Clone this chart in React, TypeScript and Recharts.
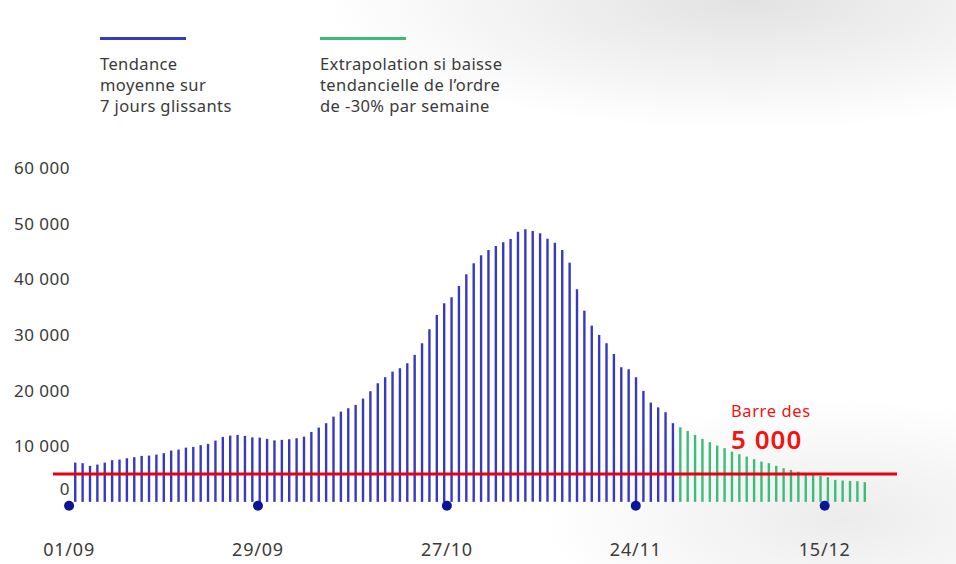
import React from 'react';
import {
  ComposedChart,
  Bar,
  XAxis,
  YAxis,
  ReferenceLine,
  ReferenceDot
} from 'recharts';

// 7-day rolling average (daily cases)
const trendValues = [
  7060, 6950, 6470, 6700, 7060, 7490, 7600, 7850, 8030, 8260,
  8320, 8500, 8750, 9220, 9390, 9750, 9880, 10190, 10420, 11010,
  11680, 11910, 12040, 11860, 11590, 11550, 11320, 11050, 11140, 11260,
  11440, 11730, 12570, 13350, 14140, 15320, 16220, 16830, 17420, 18560,
  19890, 21320, 22400, 23410, 24020, 24910, 26410, 28510, 31020, 33590,
  35690, 36770, 38800, 40900, 42880, 44310, 45270, 45990, 46650, 47240,
  48550, 48980, 48680, 48270, 47300, 46580, 45270, 42990, 38210, 34360,
  31670, 30000, 28510, 26590, 24200, 23840, 22400, 19940, 17840, 16980,
  16110, 14140
];

// extrapolation with -30% per week
const extrapolationValues = [
  13420, 12750, 12040, 11320, 10730, 10110, 9650, 9040, 8570, 8140,
  7670, 7240, 6950, 6470, 6050, 5750, 5440, 5160, 4980, 4670,
  4440, 3950, 3830, 3770, 3720, 3540
];

const dateTicks = [
  { pos: -0.9, label: '01/09' },
  { pos: 24.7, label: '29/09' },
  { pos: 50.3, label: '27/10' },
  { pos: 75.9, label: '24/11' },
  { pos: 101.5, label: '15/12' }
];

const yTicks = [0, 10000, 20000, 30000, 40000, 50000, 60000];

const threshold = 5000;

const legendItems = [
  { color: '#3838c0', lines: ['Tendance', 'moyenne sur', '7 jours glissants'] },
  { color: '#3dbb7a', lines: ['Extrapolation si baisse', 'tendancielle de l\u2019ordre', 'de -30% par semaine'] }
];

const data = [
  ...trendValues.map((v, i) => ({ pos: i, trend: v, extra: null as number | null })),
  ...extrapolationValues.map((v, i) => ({ pos: trendValues.length + i, trend: null as number | null, extra: v }))
];

const FONT = '"Noto Sans", "Open Sans", sans-serif';
const TEXT = '#3a3a3a';

const fmt = (n: number) => n.toLocaleString('fr-FR').replace(/\s/g, ' ');

const YTick = (props: any) => {
  const { x, y, payload } = props;
  const shift = payload.value === 0 ? -13 : 0;
  return (
    <text x={x + 17} y={y + shift} dy="0.35em" textAnchor="end" fill={TEXT} fontSize={17} letterSpacing={0.5} fontFamily={FONT}>
      {fmt(payload.value)}
    </text>
  );
};

const XTick = (props: any) => {
  const { x, y, payload } = props;
  const t = dateTicks.find(d => d.pos === payload.value);
  return (
    <text x={x} y={y + 37} dy="0.35em" textAnchor="middle" fill={TEXT} fontSize={18} letterSpacing={0.8} fontFamily={FONT}>
      {t ? t.label : ''}
    </text>
  );
};

export default function App() {
  return (
    <div
      style={{
        position: 'absolute',
        left: 0,
        top: 0,
        width: 956,
        height: 564,
        background:
          'radial-gradient(ellipse 420px 130px at 78% 0%, #e2e2e2 0%, rgba(255,255,255,0) 100%), ' +
          'radial-gradient(ellipse 300px 120px at 88% 92%, #ececec 0%, rgba(255,255,255,0) 100%), #ffffff',
        overflow: 'hidden'
      }}
    >
      {legendItems.map((item, idx) => (
        <div
          key={idx}
          style={{
            position: 'absolute',
            left: idx === 0 ? 100 : 320,
            top: 37,
            fontFamily: FONT,
            fontSize: 16.5,
            letterSpacing: 0.4,
            lineHeight: '21px',
            color: TEXT
          }}
        >
          <div style={{ width: 86, height: 3, background: item.color, marginBottom: 13 }} />
          {item.lines.map((l, j) => (
            <div key={j} style={{ whiteSpace: 'nowrap' }}>{l}</div>
          ))}
        </div>
      ))}

      <div style={{ position: 'absolute', left: 0, top: 0 }}>
        <ComposedChart
          width={956}
          height={564}
          data={data}
          margin={{ top: 168, right: 59, bottom: 0, left: 0 }}
        >
          <XAxis
            dataKey="pos"
            type="number"
            domain={[-3.08, 111.3]}
            allowDataOverflow
            ticks={dateTicks.map(d => d.pos)}
            interval={0}
            tick={<XTick />}
            tickLine={false}
            axisLine={false}
            tickSize={0}
            tickMargin={0}
            height={51}
          />
          <YAxis
            type="number"
            domain={[-2000, 60000]}
            ticks={yTicks}
            interval={0}
            tick={<YTick />}
            tickLine={false}
            axisLine={false}
            tickSize={0}
            tickMargin={0}
            width={53}
          />
          <Bar dataKey="trend" stackId="s" fill="#3838c0" barSize={2.4} isAnimationActive={false} />
          <Bar dataKey="extra" stackId="s" fill="#3dbb7a" barSize={2.4} isAnimationActive={false} />
          <ReferenceLine y={threshold} stroke="#e60012" strokeWidth={3} />
          {dateTicks.map(d => (
            <ReferenceDot key={d.label} x={d.pos} y={-700} r={5} fill="#0a1696" stroke="none" />
          ))}
          <text x={731} y={411} dy="0.35em" fill="#f01414" fontSize={16.5} letterSpacing={0.6} fontFamily={FONT}>
            Barre des
          </text>
          <text x={731} y={440} dy="0.35em" fill="#f01414" fontSize={26} letterSpacing={1} fontWeight={600} fontFamily={FONT}>
            {fmt(threshold)}
          </text>
        </ComposedChart>
      </div>
    </div>
  );
}
